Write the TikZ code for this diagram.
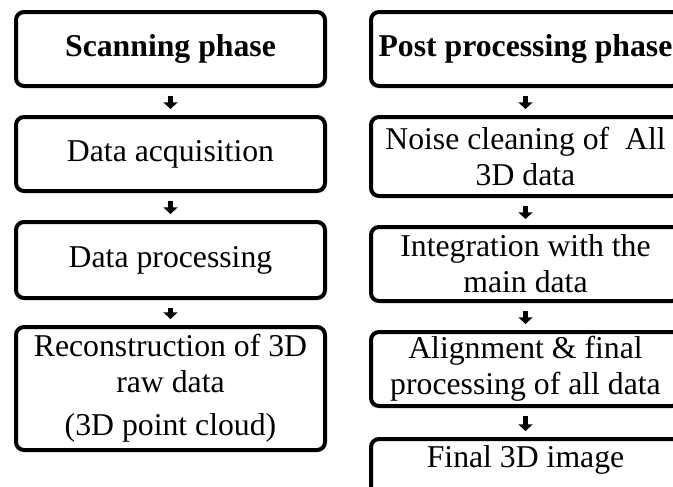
\documentclass[tikz,border=0pt]{standalone}
\usepackage{fontspec}
\setmainfont{Liberation Serif}
\usetikzlibrary{arrows.meta}
\begin{document}
\begin{tikzpicture}[x=0.75pt,y=-0.75pt,
  stepbox/.style={draw=black,line width=3pt,rounded corners=6pt,fill=white,
    minimum width=231.75pt,inner sep=0pt,outer sep=0pt,align=center,
    font=\fontsize{23.8pt}{27pt}\selectfont},
  txt/.style={inner sep=0pt,align=center,font=\fontsize{23.8pt}{27pt}\selectfont},
  flow/.style={line width=4pt,-{Triangle[width=10.5pt,length=5pt]},
    shorten <=7.5pt,shorten >=6pt}]
\clip (0,0) rectangle (673,486);
\fill[white] (0,0) rectangle (673,486);
% left column
\node[stepbox,minimum height=55.5pt] (L1) at (170.5,49) {\textbf{Scanning phase}};
\node[stepbox,minimum height=55.5pt] (L2) at (170.5,154) {Data acquisition};
\node[stepbox,minimum height=57pt] (L3) at (170.5,260) {Data processing};
\node[stepbox,minimum height=92.25pt] (L4) at (170.5,388.5) {Reconstruction of 3D\\raw data\\[5pt](3D point cloud)};
% right column
\node[stepbox,minimum height=55.5pt] (R1) at (525.5,49) {\textbf{Post processing phase}};
\node[stepbox,minimum height=59.25pt] (R2) at (525.5,156.5) {Noise cleaning of~ All\\3D data};
\node[stepbox,minimum height=55.5pt] (R3) at (525.5,264) {Integration with the\\main data};
\node[stepbox,minimum height=55.5pt] (R4) at (525.5,369) {Alignment \& final\\processing of all data};
\node[stepbox,minimum height=57.75pt] (R5) at (525.5,477.5) {};
\node[txt] (R5t) at (525.5,460) {Final 3D image};
% arrows
\draw[flow] (L1.south) -- (L2.north);
\draw[flow] (L2.south) -- (L3.north);
\draw[flow] (L3.south) -- (L4.north);
\draw[flow] (R1.south) -- (R2.north);
\draw[flow] (R2.south) -- (R3.north);
\draw[flow] (R3.south) -- (R4.north);
\draw[flow] (R4.south) -- (R5.north);
\end{tikzpicture}
\end{document}
